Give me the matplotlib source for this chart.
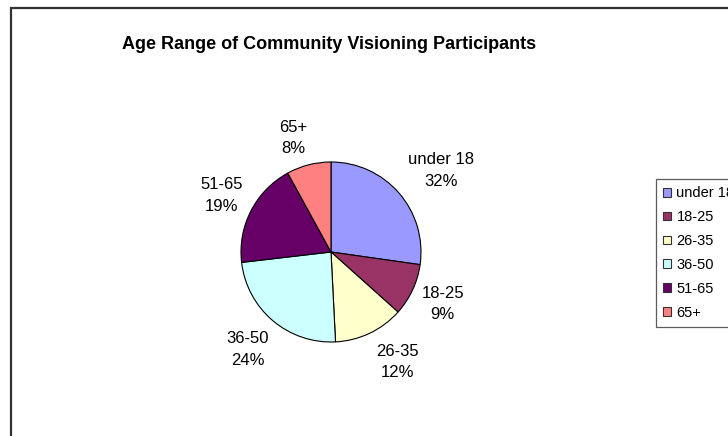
import numpy as np
import matplotlib.pyplot as plt
from matplotlib.patches import Rectangle

plt.rcParams['font.family'] = ['Liberation Sans', 'DejaVu Sans']

# data
age_groups = ["under 18", "18-25", "26-35", "36-50", "51-65", "65+"]
shares = [27.3, 9.4, 12.6, 24.0, 18.9, 8.0]          # slice sizes as drawn
pct_labels = ["32%", "9%", "12%", "24%", "19%", "8%"]  # percentages as printed
colors = ["#9999FF", "#993366", "#FFFFCC", "#CCFFFF", "#660066", "#FF8080"]

W, H = 728, 436
fig = plt.figure(figsize=(W / 100, H / 100), dpi=100)

# chart area border (runs off the right and bottom edges)
fig.patches.append(Rectangle((11 / W, -0.1), 1.2, (H - 8) / H + 0.1,
                             transform=fig.transFigure, fill=False,
                             edgecolor="#333333", linewidth=1.6))

fig.text(329 / W, 1 - 49 / H, "Age Range of Community Visioning Participants",
         ha="center", va="baseline", fontsize=13, fontweight="bold")

R = 90
cx, cy = 331, 252
ax = fig.add_axes([(cx - R) / W, (H - cy - R) / H, 2 * R / W, 2 * R / H])
labels = [f"{g}\n{p}" for g, p in zip(age_groups, pct_labels)]
wedges, texts = ax.pie(shares, colors=colors, startangle=90, counterclock=False,
                       labels=labels, labeldistance=1.4,
                       wedgeprops=dict(edgecolor="black", linewidth=0.8),
                       textprops=dict(ha="center", va="center", fontsize=12,
                                      multialignment="center", linespacing=1.55))
ax.set_xlim(-1, 1)
ax.set_ylim(-1, 1)
ax.set_aspect("equal")

# push each label out so its box sits just clear of the pie, like Excel does,
# then apply small hand nudges (pixels) to match the original placement
renderer = fig.canvas.get_renderer()
gap = 0.07
nudge_px = [(9, -6), (0, 0), (14, 0), (-3, -3), (0, 0), (-9, 0)]
for w, t, (nx, ny) in zip(wedges, texts, nudge_px):
    ang = np.deg2rad((w.theta1 + w.theta2) / 2)
    bb = t.get_window_extent(renderer)
    hw, hh = bb.width / 2 / R, bb.height / 2 / R
    d = 1 + gap + hw * abs(np.cos(ang)) + hh * abs(np.sin(ang))
    t.set_position((d * np.cos(ang) + nx / R, d * np.sin(ang) + ny / R))

handles = [Rectangle((0, 0), 1, 1, facecolor=c, edgecolor="#333333", linewidth=0.8)
           for c in colors]
leg = fig.legend(handles, age_groups, loc="upper left",
                 bbox_to_anchor=(656 / W, 1 - 179 / H), borderaxespad=0,
                 fontsize=10.5, handlelength=0.55, handleheight=0.55,
                 handletextpad=0.35, labelspacing=0.68, borderpad=0.5,
                 frameon=True, fancybox=False)
leg.get_frame().set_edgecolor("#333333")
leg.get_frame().set_linewidth(0.9)

fig.savefig("out.png", dpi=100)
